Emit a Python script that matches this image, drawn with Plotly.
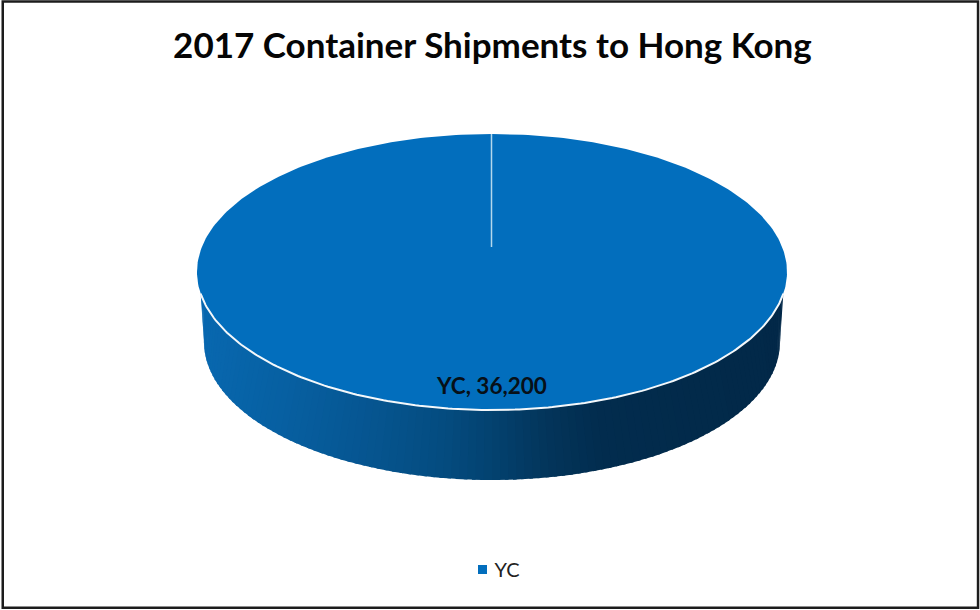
import numpy as np
import plotly.graph_objects as go

categories = ["YC"]
values = [36200]
title_text = "2017 Container Shipments to Hong Kong"

TOP = "#026EBD"
# Horizontal shading of the pie's wall: (x position, RGB)
shade_x = [197, 280, 360, 440, 490, 540, 600, 700, 787]
shade_rgb = [(8, 104, 176), (7, 96, 162), (6, 86, 146), (4, 76, 128), (3, 66, 112),
             (3, 54, 92), (2, 44, 78), (2, 42, 74), (2, 40, 72)]

CX, CY, RX, RY = 492, 272, 295, 138
WALL_CY, WALL_RX, WALL_RY = 342, 288, 138
APEX_Y = 247
RIM_START = np.radians(9)

share = np.array(values) / sum(values)
sweep = 2 * np.pi * share[0]


def rim(t):
    return CX + RX * np.cos(t), CY + RY * np.sin(t)


def wall_bottom(t):
    return CX + WALL_RX * np.cos(t), WALL_CY + WALL_RY * np.sin(t)


fig = go.Figure()

# Wall: strips from right (u=0) to left (u=1)
N = 110
us = np.linspace(0, 1, N + 1)
for a, b in zip(us[:-1], us[1:]):
    b2 = min(1, b + 0.004)
    ts = np.linspace(a, b2, 4)
    tx, ty = rim(RIM_START + ts * (np.pi - 2 * RIM_START))
    bx, by = wall_bottom(ts * np.pi)
    xm = (tx.mean() + bx.mean()) / 2
    col = [int(round(np.interp(xm, shade_x, [c[i] for c in shade_rgb]))) for i in range(3)]
    fig.add_trace(go.Scatter(
        x=np.r_[tx, bx[::-1]], y=np.r_[ty, by[::-1]], mode="lines", fill="toself",
        fillcolor=f"rgb({col[0]},{col[1]},{col[2]})", line=dict(width=0),
        hoverinfo="skip", showlegend=False))

# Top face, sized by the slice's share of the total
t = np.linspace(-np.pi / 2, -np.pi / 2 + sweep, 361)
x, y = rim(t)
fig.add_trace(go.Scatter(x=x, y=y, mode="lines", fill="toself", fillcolor=TOP,
                         line=dict(width=0), hoverinfo="skip", showlegend=False))

# White front rim
t = np.linspace(RIM_START, np.pi - RIM_START, 200)
x, y = rim(t)
fig.add_trace(go.Scatter(x=x, y=y, mode="lines", line=dict(color="#F4F8FB", width=2),
                         hoverinfo="skip", showlegend=False))

# Slice seam from the back rim to the apex
sx, sy = rim(-np.pi / 2)
fig.add_trace(go.Scatter(x=[sx - 0.5, sx - 0.5], y=[sy, APEX_Y], mode="lines",
                         line=dict(color="#B4D8EC", width=1.5),
                         hoverinfo="skip", showlegend=False))

# Data label
fig.add_trace(go.Scatter(
    x=[CX], y=[388], mode="text",
    text=[f"{categories[0]}, {values[0]:,}"],
    textfont=dict(family="Lato", size=22.5, color="#071018", weight="bold"),
    textposition="middle center", hoverinfo="skip", showlegend=False))

# Legend entry
fig.add_trace(go.Scatter(
    x=[None], y=[None], mode="markers", name=categories[0],
    marker=dict(symbol="square", size=9, color=TOP)))

fig.update_layout(
    width=980, height=610, margin=dict(l=0, r=0, t=0, b=0),
    paper_bgcolor="white", plot_bgcolor="white",
    xaxis=dict(range=[0, 980], visible=False, fixedrange=True),
    yaxis=dict(range=[610, 0], visible=False, fixedrange=True),
    title=dict(text=f"<b>{title_text}</b>", x=0.5025, xanchor="center", y=0.925, yanchor="middle",
               font=dict(family="Lato", size=35, color="#050505")),
    legend=dict(x=0.5, xanchor="center", y=0.0665, yanchor="middle", orientation="h",
                font=dict(family="Lato", size=20, color="#222222"),
                itemwidth=30, bgcolor="rgba(0,0,0,0)"),
    shapes=[dict(type="rect", xref="paper", yref="paper", x0=0.0028, x1=0.998, y0=0.0035, y1=0.9975,
                 line=dict(color="#1C1C1C", width=2.5), layer="below")],
)

# The reference's legend swatch sits closer to its label than Plotly's minimum item width allows
fig.write_html("out.html", config=dict(displayModeBar=False),
               post_script="document.body.style.margin='0';"
                           "document.querySelectorAll('.legendsymbols').forEach(function(s){"
                           "s.setAttribute('transform','translate(8,0)');});")
